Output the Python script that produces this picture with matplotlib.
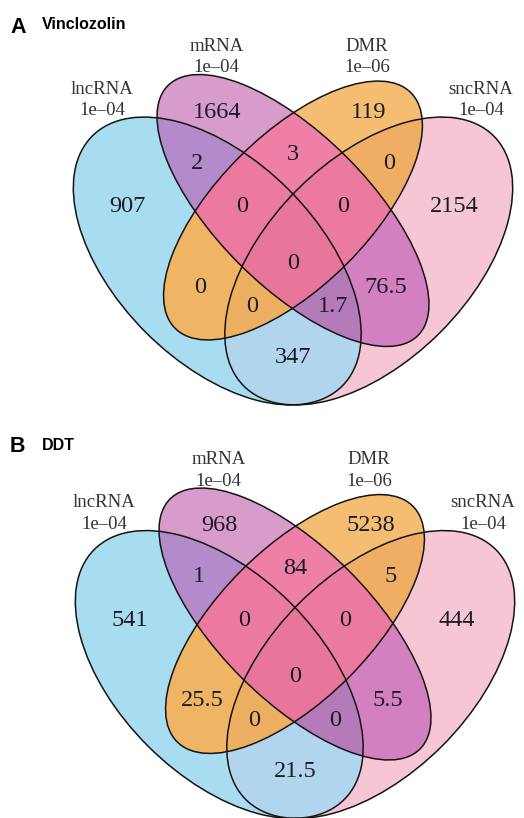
import numpy as np
import matplotlib.pyplot as plt
from matplotlib.patches import Ellipse
from matplotlib.colors import to_rgb

# sets and their p-value cutoffs
sets = ['lncRNA', 'mRNA', 'DMR', 'sncRNA']
cutoffs = ['1e\u201304', '1e\u201304', '1e\u201306', '1e\u201304']

# regions: letters say which sets are in (l=lncRNA, m=mRNA, D=DMR, s=sncRNA)
regions = ['l', 'm', 'D', 's', 'lm', 'mD', 'Ds', 'lmD', 'mDs', 'lmDs',
           'lD', 'lDs', 'lms', 'ms', 'ls']
vinclozolin = [907, 1664, 119, 2154, 2, 3, 0, 0, 0, 0, 0, 0, 1.7, 76.5, 347]
ddt = [541, 968, 5238, 444, 1, 84, 5, 0, 0, 0, 25.5, 0, 0, 5.5, 21.5]

panels = [('A', 'Vinclozolin', vinclozolin), ('B', 'DDT', ddt)]

# VennDiagram style quad layout (unit coords): x, y, a, b, rotation
ellipses = {'l': (0.35, 0.47, 0.35, 0.20, 135),
            'm': (0.50, 0.57, 0.35, 0.15, 135),
            'D': (0.50, 0.57, 0.33, 0.15, 45),
            's': (0.65, 0.47, 0.35, 0.20, 45)}
order = ['l', 'm', 'D', 's']

label_pos = {'l': (0.173, 0.577), 'm': (0.350, 0.765), 'D': (0.650, 0.765),
             's': (0.820, 0.577), 'lm': (0.310, 0.664), 'mD': (0.500, 0.680),
             'Ds': (0.690, 0.664), 'lmD': (0.400, 0.577), 'mDs': (0.600, 0.577),
             'lmDs': (0.500, 0.466), 'lD': (0.316, 0.418), 'lDs': (0.420, 0.379),
             'lms': (0.580, 0.379), 'ms': (0.684, 0.418), 'ls': (0.500, 0.278)}
cat_pos = [(0.122, 0.789), (0.349, 0.874), (0.647, 0.874), (0.872, 0.789)]

region_colors = {'l': '#A8DCF0', 'm': '#D99CCB', 'D': '#F5BD72', 's': '#F7C6D6',
                 'lm': '#B48CCA', 'mD': '#EE80A8', 'Ds': '#F0AE66', 'lD': '#EFB566',
                 'lmD': '#EC7AA0', 'mDs': '#EC7AA0', 'lmDs': '#E8769A',
                 'lDs': '#EDB062', 'lms': '#B57BBA', 'ms': '#D480C0', 'ls': '#B2D6EE'}

W, H = 524, 818
S = 505
# panel placement: pixel of unit point (0.5, 0.57), and row range
centers = [(293, 210.5, 0, 409), (295, 624, 409, 818)]
title_y = [(33, 29), (452, 450)]


def inside(U, V, cx, cy, a, b, rot):
    t = np.deg2rad(rot)
    dx, dy = U - cx, V - cy
    u = dx * np.cos(t) + dy * np.sin(t)
    v = -dx * np.sin(t) + dy * np.cos(t)
    return (u / a) ** 2 + (v / b) ** 2 <= 1


fig = plt.figure(figsize=(W / 100, H / 100), dpi=100)
ax = fig.add_axes([0, 0, 1, 1])
ax.set_xlim(0, W)
ax.set_ylim(H, 0)
ax.axis('off')

ss = 3
for (letter, title, values), (px, py, top, bot), (ly, ty) in zip(panels, centers, title_y):
    xs = (np.arange(W * ss) + 0.5) / ss
    ys = top + (np.arange((bot - top) * ss) + 0.5) / ss
    X, Y = np.meshgrid(xs, ys)
    U = 0.5 + (X - px) / S
    V = 0.57 - (Y - py) / S
    masks = {k: inside(U, V, *ellipses[k]) for k in order}
    img = np.ones(X.shape + (3,))
    for key, col in region_colors.items():
        sel = np.ones(X.shape, bool)
        for k in order:
            sel &= masks[k] if k in key else ~masks[k]
        img[sel] = to_rgb(col)
    img = img.reshape(bot - top, ss, W, ss, 3).mean(axis=(1, 3))
    ax.imshow(img, extent=(0, W, bot, top), interpolation='nearest', zorder=0)

    for k in order:
        cx, cy, a, b, rot = ellipses[k]
        e = Ellipse((px + (cx - 0.5) * S, py - (cy - 0.57) * S),
                    width=2 * a * S, height=2 * b * S, angle=-rot,
                    fill=False, edgecolor='#141414', lw=1.1, zorder=2)
        ax.add_patch(e)

    for key, val in zip(regions, values):
        u, v = label_pos[key]
        ax.text(px + (u - 0.5) * S, py - (v - 0.57) * S, '{:g}'.format(val),
                ha='center', va='center', fontsize=17.5, color='#1c1c28',
                family='Liberation Serif', zorder=3)

    for name, cut, (u, v) in zip(sets, cutoffs, cat_pos):
        ax.text(px + (u - 0.5) * S, py - (v - 0.57) * S, name + '\n' + cut,
                ha='center', va='center', fontsize=13.5, color='#333333',
                family='Liberation Serif', linespacing=1.35, zorder=3)

    ax.text(10, ly, letter, fontsize=15.5, fontweight='bold',
            family='Liberation Sans', va='baseline')
    ax.text(42, ty, title, fontsize=11.5, fontweight='bold',
            family='Liberation Sans', va='baseline')

fig.savefig('out.png', dpi=100)
